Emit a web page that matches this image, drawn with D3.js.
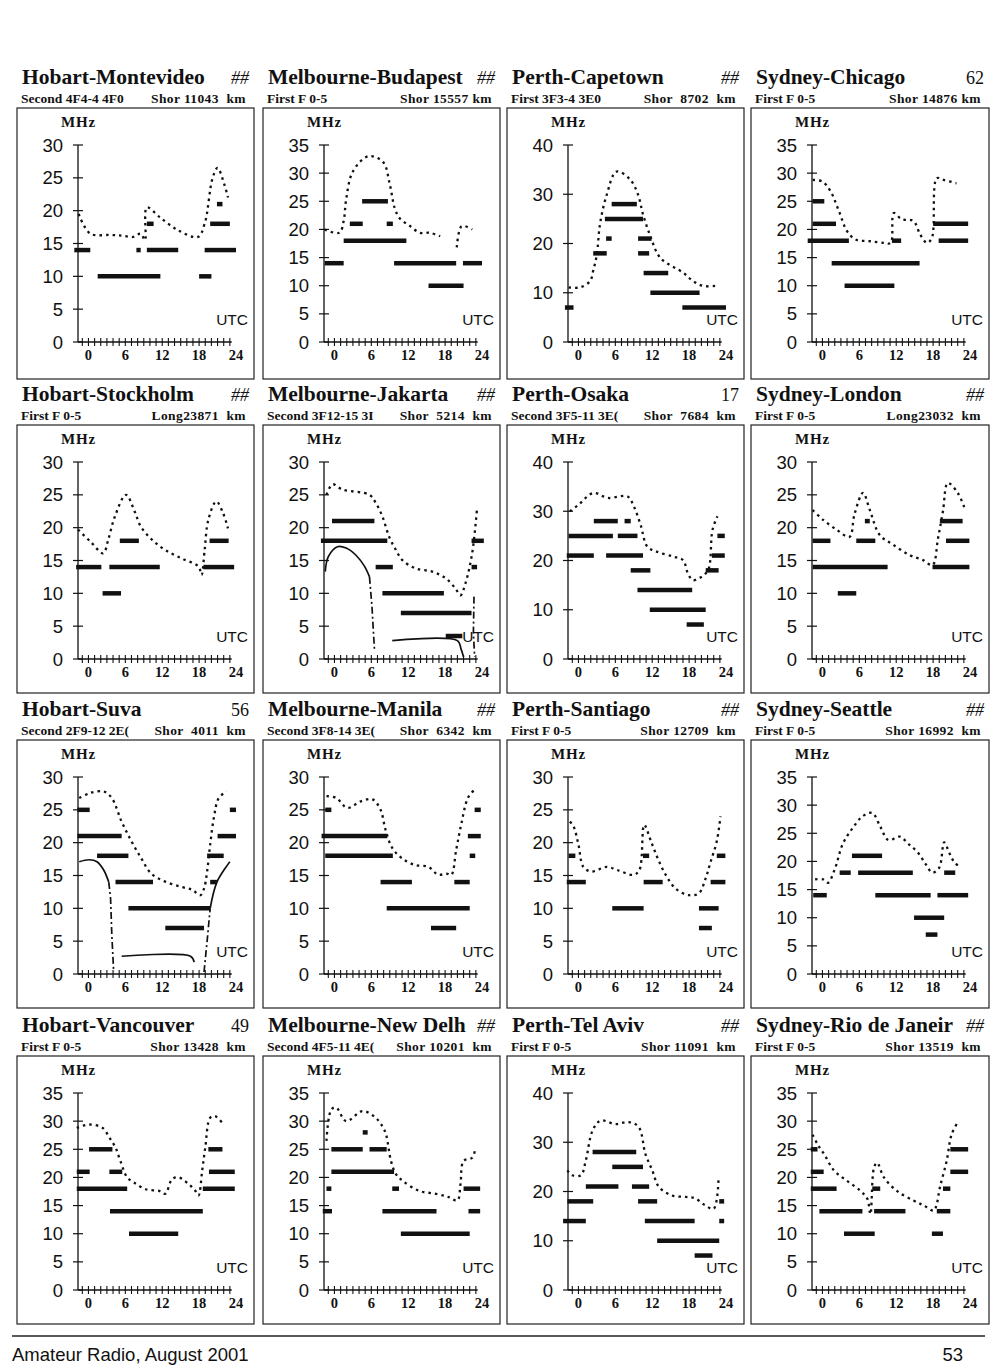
<!DOCTYPE html>
<html><head><meta charset="utf-8">
<script src="https://cdn.jsdelivr.net/npm/d3@7"></script>
<style>body{margin:0;background:#fff}</style>
</head><body>
<svg id="page" width="1000" height="1365"></svg>
<script>
// ---------- text data ----------
const titles = ["Hobart-Montevideo","Melbourne-Budapest","Perth-Capetown","Sydney-Chicago",
  "Hobart-Stockholm","Melbourne-Jakarta","Perth-Osaka","Sydney-London",
  "Hobart-Suva","Melbourne-Manila","Perth-Santiago","Sydney-Seattle",
  "Hobart-Vancouver","Melbourne-New Delh","Perth-Tel Aviv","Sydney-Rio de Janeir"];
const titleTags = ["##","##","##","62","##","##","17","##","56","##","##","##","49","##","##","##"];
const modes = ["Second 4F4-4 4F0","First F 0-5","First 3F3-4 3E0","First F 0-5",
  "First F 0-5","Second 3F12-15 3I","Second 3F5-11 3E(","First F 0-5",
  "Second 2F9-12 2E(","Second 3F8-14 3E(","First F 0-5","First F 0-5",
  "First F 0-5","Second 4F5-11 4E(","First F 0-5","First F 0-5"];
const paths = ["Shor 11043  km","Shor 15557 km","Shor  8702  km","Shor 14876 km",
  "Long23871  km","Shor  5214  km","Shor  7684  km","Long23032  km",
  "Shor  4011  km","Shor  6342  km","Shor 12709  km","Shor 16992  km",
  "Shor 13428  km","Shor 10201  km","Shor 11091  km","Shor 13519  km"];
const yMaxes = [30,35,40,35, 30,30,40,30, 30,30,30,35, 35,35,40,35];
const hourLabels = [0,6,12,18,24];
const footerLeft = "Amateur Radio, August 2001";
const footerRight = "53";

// ---------- bands: [fromHour, toHour, MHz] ----------
const bands01 = [[-2.3,0.3,14],[1.5,11.7,10],[7.8,8.5,14],[9.5,14.6,14],[9.5,10.6,18],[18,20,10],[18.9,24,14],[19.8,23,18],[20.9,21.8,21]];
const bands02 = [[-1.6,1.5,14],[1.5,11.7,18],[2.5,4.6,21],[4.5,8.7,25],[8.5,9.5,21],[9.7,19.8,14],[15.3,21,10],[20.9,24,14]];
const bands03 = [[-2.2,-0.8,7],[2.4,4.6,18],[4.5,5.4,21],[4.3,10.5,25],[5.4,9.5,28],[9.7,11.9,21],[9.7,11.5,18],[10.6,14.6,14],[11.7,19.7,10],[16.9,24,7]];
const bands04 = [[-2.4,4.3,18],[-1.6,2.2,21],[-1.6,0.3,25],[1.5,15.8,14],[3.6,11.7,10],[11.3,12.8,18],[18,23.7,21],[18.9,23.7,18]];
const bands05 = [[-2,2.1,14],[2.3,5.3,10],[3.4,11.6,14],[5.1,8.2,18],[18.7,23.7,14],[19.7,22.8,18]];
const bands06 = [[-2.2,8.6,18],[-0.4,6.5,21],[6.7,9.5,14],[7.8,17.8,10],[10.8,22.3,7],[18.1,20.8,3.5],[22.3,23.2,14],[22.3,24.3,18]];
const bands07 = [[-1.6,5.6,25],[6.4,9.6,25],[-1.9,2.5,21],[4.5,10.5,21],[2.5,6.4,28],[7.5,8.5,28],[8.5,11.7,18],[9.6,18.5,14],[11.6,20.7,10],[17.6,20.4,7],[20.7,22.8,18],[21.7,23.8,21],[22.6,23.8,25]];
const bands08 = [[-1.6,1.3,18],[-1.6,10.6,14],[2.5,5.5,10],[5.5,8.6,18],[6.9,7.7,21],[17.9,23.9,14],[20.1,23.9,18],[19.1,22.8,21]];
const bands09 = [[-1.8,0.2,25],[-1.8,5.4,21],[1.4,6.5,18],[4.4,10.5,14],[6.5,19.8,10],[12.5,18.8,7],[19.8,20.9,14],[19.3,22,18],[21,24,21],[23,24,25]];
const bands10 = [[-1.5,-0.5,25],[-2.1,8.6,21],[-1.5,9.5,18],[7.5,12.6,14],[8.5,22,10],[15.7,19.8,7],[19.5,22,14],[22,22.9,18],[21.7,23.8,21],[22.8,23.8,25]];
const bands11 = [[-1.9,1.2,14],[-1.6,-0.5,18],[5.5,10.6,10],[10.5,11.5,18],[10.6,13.7,14],[19.6,22.8,10],[19.6,21.7,7],[21.5,23.9,14],[22.5,23.9,18]];
const bands12 = [[-1.5,0.7,14],[2.8,4.6,18],[4.8,9.7,21],[5.8,14.7,18],[8.6,17.6,14],[14.9,19.8,10],[16.8,18.7,7],[19.8,21.6,18],[18.7,23.7,14]];
const bands13 = [[-1.9,6.3,18],[-1.9,0.2,21],[3.4,5.5,21],[0.1,3.9,25],[3.5,18.6,14],[6.6,14.6,10],[18.6,23.8,18],[19.6,23.8,21],[19.5,21.8,25]];
const bands14 = [[-1.9,-0.4,14],[-1.3,-0.5,18],[-0.5,9.7,21],[-0.5,4.6,25],[5.7,8.5,25],[4.6,5.4,28],[9.4,10.5,18],[7.8,16.6,14],[10.8,22,10],[21,23.7,18],[21.8,23.7,14]];
const bands15 = [[-2.5,1.2,14],[-1.8,2.4,18],[1.2,6.5,21],[2.3,9.4,28],[5.5,10.5,25],[8.7,11.5,21],[9.7,12.8,18],[10.8,18.9,14],[12.8,22.9,10],[18.9,21.8,7],[22.9,23.7,18],[22.9,23.7,14]];
const bands16 = [[-1.9,-0.8,25],[-1.9,0.2,21],[-1.9,2.3,18],[-0.5,6.5,14],[3.5,8.5,10],[8.1,9.4,18],[8.4,13.5,14],[17.8,19.6,10],[18.6,20.8,14],[19.6,20.8,18],[20.8,23.7,25],[20.8,23.7,21]];

// ---------- MUF curves: [hour, MHz] (null = gap) ----------
const muf01 = [[-1.6,19.5],[0.3,16.5],[3.5,16.3],[5.5,16.2],[7.3,16],[8.5,16.5],[9.2,15.5],[9.5,20.5],[11.6,19],[14.6,17],[17.8,16],[18.9,18],[20.2,25],[21,26.5],[22.1,24],[22.7,22]];
const muf02 = [[-1.6,20],[0.8,19.4],[1.5,21.5],[1.9,25.3],[3,30.3],[5.5,33],[7.9,32],[9,28],[9.8,23.8],[10.6,22],[12.3,20.6],[13.9,19.4],[15.5,19.4],[17.2,18.8],null,[19.9,16.8],[20.7,20.6],[22.4,20]];
const muf03 = [[-1.6,11.1],[0.3,11.1],[1.9,12.4],[2.4,14.5],[3,17.8],[3.5,23.9],[4.6,29.9],[6.2,34.6],[8.4,33],[9.7,29.9],[10.5,25.9],[11.6,21.8],[12.9,17.8],[13.8,16.5],[17,14.1],[18.6,12.4],[20.2,11.4],[22.4,11.4]];
const muf04 = [[-1.6,28.8],[0,28.5],[1.3,26.8],[2.7,23.2],[4,19.7],[5.4,18.2],[7.8,17.9],[10,17.6],[11.1,17.6],[11.6,22.9],[12.9,21.8],[14.8,21.5],[15.9,19.1],[17,17.6],[17.8,18.5],[18.6,29.1],[19.7,28.8],[21.8,28.2]];
const muf05 = [[-1.7,19.7],[0.3,17.9],[2.4,16.1],[3.2,18.1],[4.3,21.7],[6.1,25],[7.5,22.5],[8.5,20.2],[10.4,18.1],[12.5,16.6],[15.2,15.3],[17.9,14.1],[18.4,12.8],[18.9,16.6],[19.5,21.2],[20.8,24],[21.9,22.2],[22.7,19.9]];
const muf06 = [[-1.3,25],[-0.3,26.6],[1.3,25.8],[5.7,25],[6.7,23.8],[7.8,21.7],[8.9,18.6],[10,16.6],[11,15.1],[13.2,13.8],[15.9,13.3],[18.1,12.3],[19.7,10.7],[20.5,9.7],[21.3,11.5],[22.4,16.1],[23.2,23]];
const muf07 = [[-1.4,30],[0,31.3],[2.4,33.7],[4.8,32.7],[8,33],[9,31],[10.1,27.3],[11.2,22.8],[12.7,21.8],[15.4,20.8],[17,20.1],[17.8,17.4],[18.6,16],[19.6,16.4],[20.4,17],[21.2,18.4],[21.8,26.2],[22.6,29]];
const muf08 = [[-1.6,22.7],[0.1,21.2],[2.3,19.7],[4.4,18.6],[5.2,22],[6.6,25.3],[7.7,22.7],[9.3,18.9],[11.5,17.4],[14.2,15.8],[16.3,15.1],[17.9,14.3],[18.8,18.4],[19.6,22.5],[20.4,26.8],[22,25.3],[23.1,23]];
const muf09 = [[-1.5,26.8],[0.4,27.6],[2.5,27.8],[3.8,26.8],[5.4,23.2],[7,20.2],[8.6,17.6],[10.2,15.3],[12.4,14.1],[15,13.3],[16.9,12.8],[18.2,12],[18.8,13],[19.3,15.6],[19.8,19.7],[20.4,23.8],[21.2,26.8],[22.5,27.8]];
const muf10 = [[-1.3,27.1],[0.3,26.8],[2.1,25.3],[4.3,26.3],[6.2,26.6],[7.5,25],[8.3,22],[9.4,19.2],[11,17.6],[13.1,16.6],[15.3,16.3],[16.9,15.1],[18.2,15.3],[19,15.1],[19.8,18.9],[20.6,22.7],[21.7,26.8],[22.8,28.1]];
const muf11 = [[-1.4,23.2],[-0.8,22.5],[0,19.7],[0.8,16.3],[2.1,15.6],[4.6,16.3],[6.4,15.8],[8.9,15.1],[9.9,15.8],[10.7,22.7],[11.8,20.2],[12.9,17.6],[14.2,15.1],[15.8,13],[18,12],[19.6,12.3],[20.7,14.6],[21.5,17.1],[22.5,20.2],[23.1,24]];
const muf12 = [[-1.2,16.8],[0.1,16.8],[0.9,16.2],[2,18.6],[3.3,23.1],[4.9,25.9],[6.5,28],[8.1,28.6],[9.4,26.2],[10.7,23.8],[12.6,24.4],[13.9,23.2],[15.5,21.6],[16.8,19.5],[17.9,18],[19,18.9],[19.8,23.4],[20.6,21.6],[21.3,20.1],[22.4,18.9]];
const muf13 = [[-1.9,28.8],[0.1,29.4],[2.3,28.8],[3.4,27.1],[4.4,25.3],[5.2,22.9],[6.3,20],[7.4,19.1],[9.3,17.9],[11.5,17.6],[12.5,17.1],[13.6,19.7],[14.7,20],[16.3,18.8],[17.4,17.6],[17.9,16.8],[18.5,21.2],[19,25.3],[19.8,30.6],[20.6,30.9],[22,29.4]];
const muf14 = [[-1.3,26.5],[-0.5,32.1],[0.3,32.4],[1.9,30],[4.6,31.8],[6.7,30.6],[7.8,29.1],[8.4,27.6],[9.2,22.9],[10,20.6],[11.1,19.4],[13.8,17.6],[16.5,17.1],[18.6,16.5],[20,15.9],[20.5,18.8],[21,22.9],[22.4,23.5],[22.9,25]];
const muf15 = [[-1.8,24.3],[-1,23.3],[0.4,23.3],[1.2,26.3],[2.3,32.4],[3.6,34.4],[6,33.7],[8.2,34.1],[9.8,33.1],[10.9,27.6],[12,24.3],[13.1,20.9],[15.2,19.2],[17.4,18.9],[19,18.6],[20.6,17.2],[22,16.5],[22.8,22.9]];
const muf16 = [[-1.6,27.6],[-0.8,25.9],[0.3,24.1],[1.9,21.2],[4,19.4],[6.2,17.6],[7.3,16.2],[7.8,13.5],[8.4,21.8],[8.9,22.6],[10,20],[12.1,17.6],[14.8,15.9],[16.5,15],[18.1,14.1],[18.6,15.3],[19.1,18.2],[20.2,22.9],[21,27.6],[22.1,30]];

// ---------- lowest usable frequency curves (two charts only) ----------
const lufSolid06 = [[-1.5,13.3],[-1,15.6],[0.5,17.1],[1.9,16.9],[3.5,15.8],[4.9,14.1],[5.7,12.5],null,[9.4,2.8],[20,2.8],[20.6,1.5],[21,0.3]];
const lufDash06  = [[5.7,12.5],[6.1,8],[6.5,1.5],null,[22.7,9.5],[22.6,4],[22.8,0.3]];
const lufSolid09 = [[-1.5,17.1],[0.1,17.4],[1.4,17.1],[2.5,15.8],[3.3,14],null,[5.4,2.7],[16.6,2.7],[17.2,1.8],null,[19.8,10],[20.9,14],[23,17.1]];
const lufDash09  = [[3.3,14],[3.6,11.5],[3.8,6],[4.1,0.3],null,[18.8,0.3],[19.3,5],[19.8,10]];

const bandSets = [bands01,bands02,bands03,bands04,bands05,bands06,bands07,bands08,bands09,bands10,bands11,bands12,bands13,bands14,bands15,bands16];
const mufSets = [muf01,muf02,muf03,muf04,muf05,muf06,muf07,muf08,muf09,muf10,muf11,muf12,muf13,muf14,muf15,muf16];
const lufSolidSets = {5: lufSolid06, 8: lufSolid09};
const lufDashSets = {5: lufDash06, 8: lufDash09};

// ---------- layout ----------
const svg = d3.select('#page');
svg.append('rect').attr('width',1000).attr('height',1365).attr('fill','#fff');
const colLeft = [17,263,507,751], colWidth = [237,237,237,238];
const rowTop = [108,425,740,1056], rowHeight = [271,268,268,268];
const serif = "'Liberation Serif','Times New Roman',serif";
const sans = "'Liberation Sans',Arial,sans-serif";
const ink = "#111";

titles.forEach((title, i) => {
  const r = Math.floor(i/4), k = i%4;
  const bx = colLeft[k], by = rowTop[r], bw = colWidth[k], bh = rowHeight[r];
  const g = svg.append('g');

  // headings
  g.append('text').attr('x', bx+5).attr('y', by-24).text(title)
    .attr('font-family', serif).attr('font-weight','bold').attr('font-size',21.5).attr('fill',ink);
  g.append('text').attr('x', bx+bw-5).attr('y', by-24).text(titleTags[i]).attr('text-anchor','end')
    .attr('font-family', serif).attr('font-size',18)
    .attr('font-style', titleTags[i]==="##" ? 'italic':'normal').attr('fill',ink);
  g.append('text').attr('x', bx+4).attr('y', by-5).text(modes[i])
    .attr('font-family', serif).attr('font-weight','bold').attr('font-size',13.5).attr('fill',ink)
    .style('white-space','pre');
  g.append('text').attr('x', bx+bw-8).attr('y', by-5).text(paths[i]).attr('text-anchor','end')
    .attr('font-family', serif).attr('font-weight','bold').attr('font-size',13.5).attr('fill',ink)
    .attr('letter-spacing',0.4).style('white-space','pre');

  // frame
  g.append('rect').attr('x',bx).attr('y',by).attr('width',bw).attr('height',bh)
    .attr('fill','none').attr('stroke','#222').attr('stroke-width',1.2);

  const axisX = bx+61, y0 = by+234, yTop = by+37;
  const x = d3.scaleLinear().domain([-1.7,24]).range([axisX, axisX+158]);
  const yMax = yMaxes[i];
  const y = d3.scaleLinear().domain([0,yMax]).range([y0,yTop]);
  const step = yMax === 40 ? 10 : 5;

  // y axis
  g.append('line').attr('x1',axisX).attr('x2',axisX).attr('y1',y(0)).attr('y2',y(yMax))
    .attr('stroke',ink).attr('stroke-width',1.3);
  const yt = d3.range(0, yMax+0.1, step);
  g.selectAll(null).data(yt).join('line')
    .attr('x1',axisX-5).attr('x2',axisX+5).attr('y1',d=>y(d)).attr('y2',d=>y(d))
    .attr('stroke',ink).attr('stroke-width',1.2);
  g.selectAll(null).data(yt).join('text')
    .attr('x',axisX-15).attr('y',d=>y(d)+6.5).attr('text-anchor','end').text(d=>d)
    .attr('font-family',sans).attr('font-size',18.5).attr('fill',ink);
  g.append('text').attr('x',axisX-17).attr('y',by+19).text('MHz')
    .attr('font-family',serif).attr('font-weight','bold').attr('font-size',15).attr('letter-spacing',0.8).attr('fill',ink);

  // x axis
  g.append('line').attr('x1',axisX).attr('x2',x(23.3)).attr('y1',y0).attr('y2',y0)
    .attr('stroke',ink).attr('stroke-width',1.3);
  g.selectAll(null).data(d3.range(-1,24)).join('line')
    .attr('x1',d=>x(d)).attr('x2',d=>x(d)).attr('y1',y0-4).attr('y2',y0+4)
    .attr('stroke',ink).attr('stroke-width',1.1);
  g.selectAll(null).data(hourLabels).join('text')
    .attr('x',d=>x(d)).attr('y',y0+18).attr('text-anchor','middle').text(d=>d)
    .attr('font-family',serif).attr('font-weight','bold').attr('font-size',14.5).attr('fill',ink);
  g.append('text').attr('x',bx+bw-6).attr('y',y0-17).attr('text-anchor','end').text('UTC')
    .attr('font-family',sans).attr('font-size',15.5).attr('fill',ink);

  // MUF dotted curve
  const line = d3.line().defined(d=>d).x(d=>x(d[0])).y(d=>y(d[1])).curve(d3.curveCatmullRom.alpha(0.5));
  g.append('path').attr('d', line(mufSets[i])).attr('fill','none')
    .attr('stroke',ink).attr('stroke-width',2.3).attr('stroke-dasharray','2.5 4');

  // LUF curves
  if (lufSolidSets[i]) {
    g.append('path').attr('d', line(lufSolidSets[i])).attr('fill','none')
      .attr('stroke',ink).attr('stroke-width',1.7);
    g.append('path').attr('d', d3.line().defined(d=>d).x(d=>x(d[0])).y(d=>y(d[1]))(lufDashSets[i])).attr('fill','none')
      .attr('stroke',ink).attr('stroke-width',1.7).attr('stroke-dasharray','7 3 2 3');
  }

  // frequency bands
  g.selectAll(null).data(bandSets[i]).join('line')
    .attr('x1',d=>x(d[0])).attr('x2',d=>x(d[1])).attr('y1',d=>y(d[2])).attr('y2',d=>y(d[2]))
    .attr('stroke',ink).attr('stroke-width',4.5);
});

// footer
svg.append('line').attr('x1',12).attr('x2',985).attr('y1',1336).attr('y2',1336)
  .attr('stroke','#222').attr('stroke-width',1.5);
svg.append('text').attr('x',12).attr('y',1361).text(footerLeft)
  .attr('font-family',sans).attr('font-size',18.5).attr('fill',ink);
svg.append('text').attr('x',963).attr('y',1361).attr('text-anchor','end').text(footerRight)
  .attr('font-family',sans).attr('font-size',18.5).attr('fill',ink);
</script>
</body></html>
